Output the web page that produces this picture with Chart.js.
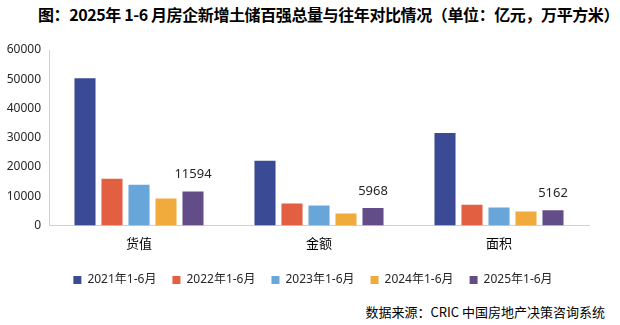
<!DOCTYPE html>
<html>
<head>
<meta charset="utf-8">
<script src="https://cdn.jsdelivr.net/npm/chart.js@4/dist/chart.umd.min.js"></script>
<style>
  html, body { margin: 0; padding: 0; background: #fff; }
  #wrap { position: relative; width: 620px; height: 325px; overflow: hidden; }
  #title {
    position: absolute; left: 38px; top: 4px; white-space: nowrap;
    font: bold 16px "Noto Sans CJK SC", sans-serif; color: #000; line-height: 20px;
    letter-spacing: -0.4px;
  }
  #source {
    position: absolute; right: 15px; top: 303px; white-space: nowrap;
    font: 13px "Noto Sans CJK SC", sans-serif; color: #000; line-height: 18px;
  }
  #box { position: absolute; left: 0; top: 32px; width: 620px; height: 264px; }
</style>
</head>
<body>
<div id="wrap">
  <div id="title">图：2025年 1-6 月房企新增土储百强总量与往年对比情况（单位：亿元，万平方米）</div>
  <div id="box"><canvas id="landChart"></canvas></div>
  <div id="source">数据来源：CRIC 中国房地产决策咨询系统</div>
</div>
<script>
// categories and series
const categories = ['货值', '金额', '面积'];
const seriesNames = ['2021年1-6月', '2022年1-6月', '2023年1-6月', '2024年1-6月', '2025年1-6月'];
const values2021 = [50300, 22100, 31600];
const values2022 = [16000, 7500, 7100];
const values2023 = [13900, 6800, 6100];
const values2024 = [9200, 4100, 4750];
const values2025 = [11594, 5968, 5162];
const yTicks = [0, 10000, 20000, 30000, 40000, 50000, 60000];
const colors = ['#3B4A94', '#E35F41', '#68A5D9', '#F0AB3C', '#634D89'];

const allValues = [values2021, values2022, values2023, values2024, values2025];

// labels only on the last series, like the original
const lastSeriesLabels = {
    id: 'lastSeriesLabels',
    afterLayout(chart) {
        // legend sits centred on the whole picture, not on the plot
        if (chart.legend) {
            chart.legend.left += 15;
            chart.legend.right += 15;
        }
    },
    afterDatasetsDraw(chart) {
        const ctx = chart.ctx;
        const idx = chart.data.datasets.length - 1;
        const meta = chart.getDatasetMeta(idx);
        ctx.save();
        ctx.font = '13px "Noto Sans", sans-serif';
        ctx.fillStyle = '#262626';
        ctx.textAlign = 'center';
        ctx.textBaseline = 'middle';
        meta.data.forEach((bar, i) => {
            ctx.fillText(String(chart.data.datasets[idx].data[i]), bar.x, bar.y - 17);
        });
        ctx.restore();
    }
};

document.addEventListener('DOMContentLoaded', function () {
    const canvas = document.getElementById('landChart');
    if (!canvas) return;
    new Chart(canvas.getContext('2d'), {
        type: 'bar',
        data: {
            labels: categories,
            datasets: seriesNames.map((name, i) => ({
                label: name,
                data: allValues[i],
                backgroundColor: colors[i],
                barPercentage: 0.78,
                categoryPercentage: 0.75
            }))
        },
        options: {
            responsive: true,
            maintainAspectRatio: false,
            animation: false,
            layout: { padding: { left: 7, right: 31, top: 18, bottom: 0 } },
            plugins: {
                legend: {
                    position: 'bottom',
                    labels: {
                        boxWidth: 8,
                        boxHeight: 8,
                        padding: 16,
                        color: '#262626',
                        font: { size: 12, family: '"Noto Sans", "Noto Sans CJK SC", sans-serif' }
                    }
                },
                tooltip: { enabled: false }
            },
            scales: {
                y: {
                    min: 0,
                    max: 60000,
                    afterBuildTicks(axis) { axis.ticks = yTicks.map(v => ({ value: v })); },
                    afterFit(axis) { axis.width = 42; },
                    grid: { display: false, drawTicks: false },
                    border: { display: true, color: '#d0d0d0' },
                    ticks: {
                        padding: 8,
                        color: '#262626',
                        font: { size: 12, family: '"Noto Sans", sans-serif' },
                        callback: v => String(v)
                    }
                },
                x: {
                    afterFit(axis) { axis.height += 5; },
                    grid: { display: false },
                    border: { display: true, color: '#d0d0d0' },
                    ticks: {
                        padding: 2,
                        color: '#000',
                        font: { size: 13, family: '"Noto Sans CJK SC", sans-serif' }
                    }
                }
            }
        },
        plugins: [lastSeriesLabels]
    });
});
</script>
</body>
</html>
